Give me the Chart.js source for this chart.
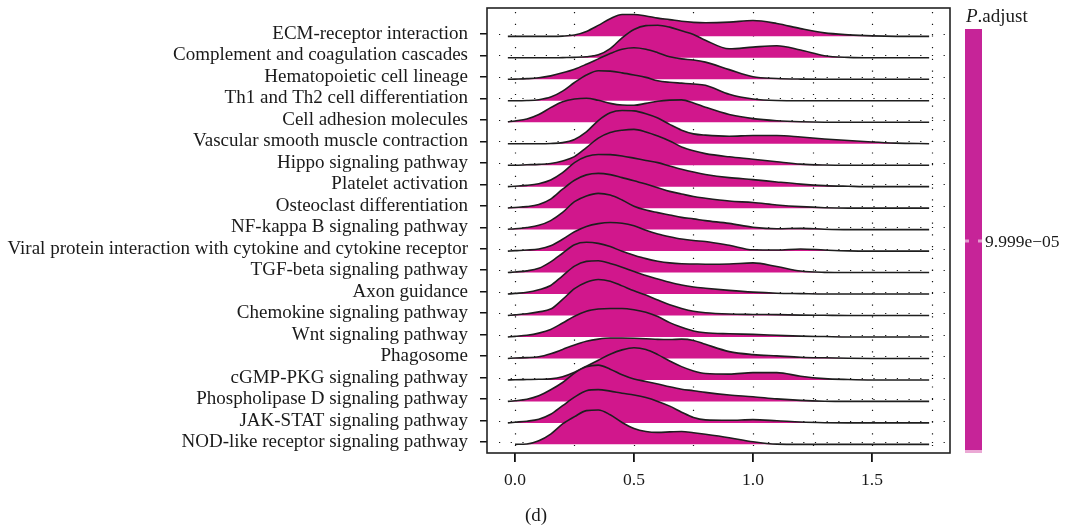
<!DOCTYPE html>
<html>
<head>
<meta charset="utf-8">
<script src="https://cdn.jsdelivr.net/npm/chart.js@4.4.0/dist/chart.umd.min.js"></script>
<style>
  body { margin: 0; background: #fff; }
  #wrap { width: 1066px; height: 531px; }
</style>
</head>
<body>
<div id="wrap"><canvas id="ridge" width="1066" height="531"></canvas></div>
<script>
// pathway names, top row first
const pathways = [
  'ECM-receptor interaction',
  'Complement and coagulation cascades',
  'Hematopoietic cell lineage',
  'Th1 and Th2 cell differentiation',
  'Cell adhesion molecules',
  'Vascular smooth muscle contraction',
  'Hippo signaling pathway',
  'Platelet activation',
  'Osteoclast differentiation',
  'NF-kappa B signaling pathway',
  'Viral protein interaction with cytokine and cytokine receptor',
  'TGF-beta signaling pathway',
  'Axon guidance',
  'Chemokine signaling pathway',
  'Wnt signaling pathway',
  'Phagosome',
  'cGMP-PKG signaling pathway',
  'Phospholipase D signaling pathway',
  'JAK-STAT signaling pathway',
  'NOD-like receptor signaling pathway'
];

// x positions where the ridge heights were read
const xGrid = [-0.03, 0, 0.05, 0.1, 0.15, 0.2, 0.25, 0.3, 0.35, 0.4, 0.45, 0.5, 0.55, 0.6, 0.65,
               0.7, 0.75, 0.8, 0.9, 1.0, 1.1, 1.2, 1.3, 1.4, 1.5, 1.6, 1.74];

// ridge heights (row units) at each xGrid point
const ecmReceptor   = [0, 0, 0, 0, 0, 0.01, 0.06, 0.23, 0.51, 0.82, 1.02, 1.02, 0.95, 0.85, 0.78, 0.7, 0.65, 0.63, 0.66, 0.74, 0.6, 0.36, 0.16, 0.07, 0.02, 0, 0];
const complement    = [0, 0, 0, 0, 0, 0.01, 0.02, 0.05, 0.14, 0.43, 0.93, 1.32, 1.5, 1.52, 1.43, 1.26, 1.09, 0.82, 0.42, 0.5, 0.56, 0.36, 0.1, 0.02, 0, 0, 0];
const hematopoietic = [0, 0.01, 0.03, 0.07, 0.16, 0.3, 0.47, 0.7, 0.95, 1.2, 1.4, 1.47, 1.4, 1.24, 1.05, 0.95, 0.9, 0.8, 0.45, 0.12, 0.04, 0.01, 0, 0, 0, 0, 0];
const th1th2        = [0, 0, 0.01, 0.05, 0.17, 0.45, 0.85, 1.2, 1.4, 1.38, 1.3, 1.2, 1.09, 0.93, 0.86, 0.82, 0.78, 0.72, 0.3, 0.08, 0.01, 0, 0, 0, 0, 0, 0];
const cellAdhesion  = [0.02, 0.06, 0.15, 0.36, 0.68, 0.95, 1.08, 1.12, 1.02, 0.88, 0.8, 0.79, 0.88, 0.98, 1.03, 1.04, 0.9, 0.7, 0.36, 0.17, 0.07, 0.02, 0, 0, 0, 0, 0];
const vascular      = [0, 0, 0, 0, 0.01, 0.05, 0.2, 0.55, 1.08, 1.44, 1.55, 1.53, 1.4, 1.2, 0.9, 0.63, 0.46, 0.4, 0.35, 0.38, 0.38, 0.31, 0.22, 0.15, 0.08, 0.03, 0];
const hippo         = [0, 0, 0.02, 0.04, 0.08, 0.2, 0.4, 0.82, 1.26, 1.52, 1.63, 1.67, 1.55, 1.36, 1.13, 0.85, 0.67, 0.54, 0.39, 0.28, 0.16, 0.05, 0.01, 0, 0, 0, 0];
const platelet      = [0, 0.02, 0.06, 0.14, 0.31, 0.65, 1.12, 1.4, 1.5, 1.49, 1.43, 1.33, 1.22, 1.12, 0.96, 0.81, 0.68, 0.57, 0.42, 0.33, 0.22, 0.12, 0.05, 0.02, 0, 0, 0];
const osteoclast    = [0.01, 0.03, 0.07, 0.17, 0.42, 0.88, 1.3, 1.55, 1.62, 1.56, 1.42, 1.28, 1.12, 0.95, 0.78, 0.66, 0.54, 0.46, 0.33, 0.26, 0.15, 0.07, 0.02, 0, 0, 0, 0];
const nfkappaB      = [0.02, 0.04, 0.1, 0.2, 0.42, 0.8, 1.3, 1.57, 1.69, 1.61, 1.38, 1.09, 0.91, 0.79, 0.68, 0.57, 0.5, 0.42, 0.29, 0.11, 0.04, 0.06, 0.02, 0, 0, 0, 0];
const viralProtein  = [0, 0.02, 0.05, 0.1, 0.25, 0.55, 0.9, 1.15, 1.28, 1.33, 1.3, 1.18, 0.97, 0.8, 0.67, 0.56, 0.49, 0.45, 0.27, 0.06, 0.05, 0.1, 0.05, 0.01, 0, 0, 0];
const tgfBeta       = [0, 0.03, 0.08, 0.2, 0.5, 0.9, 1.3, 1.41, 1.36, 1.21, 0.99, 0.81, 0.65, 0.53, 0.45, 0.41, 0.4, 0.39, 0.4, 0.45, 0.28, 0.07, 0.01, 0, 0, 0, 0];
const axonGuidance  = [0, 0.03, 0.08, 0.2, 0.4, 0.85, 1.3, 1.52, 1.55, 1.42, 1.25, 1.05, 0.86, 0.7, 0.55, 0.42, 0.33, 0.27, 0.17, 0.09, 0.04, 0.02, 0, 0, 0, 0, 0];
const chemokine     = [0, 0.03, 0.08, 0.17, 0.3, 0.75, 1.25, 1.55, 1.68, 1.6, 1.38, 1.15, 0.95, 0.72, 0.5, 0.33, 0.2, 0.13, 0.07, 0.05, 0.04, 0.02, 0.01, 0, 0, 0, 0];
const wnt           = [0, 0.03, 0.08, 0.18, 0.35, 0.65, 0.97, 1.2, 1.3, 1.33, 1.33, 1.27, 1.15, 0.95, 0.67, 0.45, 0.28, 0.2, 0.15, 0.12, 0.08, 0.04, 0.02, 0, 0, 0, 0];
const phagosome     = [0, 0.02, 0.04, 0.08, 0.22, 0.42, 0.63, 0.8, 0.9, 0.95, 0.95, 0.94, 0.92, 0.89, 0.88, 0.9, 0.84, 0.66, 0.32, 0.18, 0.12, 0.06, 0.03, 0.01, 0, 0, 0];
const cgmpPkg       = [0, 0.01, 0.02, 0.03, 0.05, 0.15, 0.36, 0.64, 0.92, 1.2, 1.4, 1.5, 1.42, 1.18, 0.88, 0.62, 0.42, 0.3, 0.27, 0.34, 0.34, 0.17, 0.06, 0.02, 0, 0, 0];
const phospholipase = [0, 0.03, 0.1, 0.26, 0.54, 0.88, 1.32, 1.61, 1.69, 1.5, 1.24, 1.04, 0.93, 0.81, 0.68, 0.57, 0.5, 0.42, 0.3, 0.22, 0.12, 0.05, 0.01, 0, 0, 0, 0];
const jakStat       = [0, 0.03, 0.08, 0.17, 0.4, 0.8, 1.2, 1.5, 1.55, 1.48, 1.38, 1.3, 1.18, 1.0, 0.78, 0.5, 0.25, 0.14, 0.12, 0.15, 0.1, 0.04, 0.01, 0, 0, 0, 0];
const nodLike       = [null, 0, 0.02, 0.17, 0.48, 0.95, 1.29, 1.57, 1.6, 1.38, 1.02, 0.74, 0.6, 0.56, 0.58, 0.6, 0.54, 0.47, 0.31, 0.12, 0.01, 0, 0, 0, 0, 0, 0];

// same order as pathways
const ridgeHeights = [ecmReceptor, complement, hematopoietic, th1th2, cellAdhesion, vascular, hippo,
  platelet, osteoclast, nfkappaB, viralProtein, tgfBeta, axonGuidance, chemokine, wnt, phagosome,
  cgmpPkg, phospholipase, jakStat, nodLike];

const xTicks = [0, 0.5, 1.0, 1.5];
const gridBreaks = [0, 0.25, 0.5, 0.75, 1.0, 1.25, 1.5, 1.75];
const legendTitle = ['P', '.adjust'];
const legendValue = '9.999e\u221205';
const panelTag = '(d)';

const fillColor = '#D1178C';
const barColor = '#C62498';
const lineColor = '#1e1e1e';
const serif = '"Liberation Serif", "DejaVu Serif", serif';
const rowShift = 0.11;   // ridge baseline sits a bit under its tick

const n = pathways.length;

// bottom row first so lower ridges get painted over the upper ones
var datasets = [];
for (let i = 0; i < n; i++) {
  const k = n - 1 - i;
  const base = (i + 1) - rowShift;
  const h = ridgeHeights[k];
  datasets.push({
    label: pathways[k],
    data: xGrid.map((x, j) => ({ x: x, y: h[j] == null ? null : base + h[j] })),
    fill: { value: base },
    backgroundColor: fillColor,
    borderColor: lineColor,
    borderWidth: 1.6,
    pointRadius: 0,
    cubicInterpolationMode: 'monotone'
  });
}

// kill the label overhang padding so the panel sits where the reference has it
const noPad = s => { s.paddingTop = 0; s.paddingBottom = 0; s.paddingLeft = 0; s.paddingRight = 0; };

const decor = {
  id: 'decor',
  beforeDatasetsDraw(chart) {
    const { ctx, chartArea: a, scales: { x, y } } = chart;
    ctx.save();
    ctx.strokeStyle = '#151515';
    ctx.lineWidth = 1.2;
    ctx.setLineDash([1.2, 10.5]);
    gridBreaks.forEach(v => {
      const px = Math.round(x.getPixelForValue(v)) + 0.5;
      ctx.beginPath(); ctx.moveTo(px, a.top + 4); ctx.lineTo(px, a.bottom); ctx.stroke();
    });
    for (let c = 1; c <= n; c++) {
      const py = Math.round(y.getPixelForValue(c)) + 0.5;
      ctx.beginPath(); ctx.moveTo(a.left + 12, py); ctx.lineTo(a.right, py); ctx.stroke();
    }
    ctx.restore();
  },
  afterDatasetsDraw(chart) {
    const { ctx, chartArea: a } = chart;
    ctx.save();
    // panel frame
    ctx.strokeStyle = '#222';
    ctx.lineWidth = 1.6;
    ctx.strokeRect(a.left, a.top, a.right - a.left, a.bottom - a.top);

    // colour bar legend
    const bx = a.right + 15, bw = 17, by = 29, bh = 421;
    ctx.fillStyle = barColor;
    ctx.fillRect(bx, by, bw, bh);
    ctx.fillStyle = '#EBA9D5';
    ctx.fillRect(bx, by + bh, bw, 3);
    ctx.strokeStyle = 'rgba(255,255,255,0.55)';
    ctx.lineWidth = 3;
    ctx.beginPath();
    ctx.moveTo(bx, 241); ctx.lineTo(bx + 4, 241);
    ctx.moveTo(bx + bw - 4, 241); ctx.lineTo(bx + bw, 241);
    ctx.stroke();

    ctx.fillStyle = '#1a1a1a';
    ctx.textBaseline = 'alphabetic';
    ctx.textAlign = 'left';
    ctx.font = 'italic 19px ' + serif;
    ctx.fillText(legendTitle[0], bx + 1, 22);
    const pw = ctx.measureText(legendTitle[0]).width;
    ctx.font = '19px ' + serif;
    ctx.fillText(legendTitle[1], bx + 1 + pw, 22);

    ctx.font = '17.5px ' + serif;
    ctx.textBaseline = 'middle';
    ctx.fillText(legendValue, bx + bw + 3, 242);

    ctx.font = '19px ' + serif;
    ctx.textAlign = 'center';
    ctx.fillText(panelTag, 536, 516);
    ctx.restore();
  }
};

new Chart(document.getElementById('ridge').getContext('2d'), {
  type: 'line',
  data: { datasets: datasets },
  options: {
    responsive: false,
    animation: false,
    layout: { padding: { top: 8, right: 116, left: 0, bottom: 0 } },
    plugins: { legend: { display: false }, tooltip: { enabled: false } },
    scales: {
      x: {
        type: 'linear',
        min: -0.1176,
        max: 1.8277,
        afterBuildTicks: s => { s.ticks = xTicks.map(v => ({ value: v })); },
        afterFit: s => { s.height = 78; noPad(s); },
        grid: { drawOnChartArea: false, drawTicks: true, tickLength: 9, color: '#111', lineWidth: 1.8 },
        border: { display: false },
        ticks: {
          color: '#1a1a1a',
          font: { family: serif, size: 17.5 },
          padding: 8,
          maxRotation: 0,
          callback: v => Number(v).toFixed(1)
        }
      },
      y: {
        type: 'linear',
        min: 0.488,
        max: 21.21,
        afterBuildTicks: s => { s.ticks = pathways.map((p, i) => ({ value: n - i })); },
        afterFit: s => { s.width = 487; noPad(s); },
        grid: { drawOnChartArea: false, drawTicks: true, tickLength: 7, color: '#111', lineWidth: 1.5 },
        border: { display: false },
        ticks: {
          color: '#1a1a1a',
          font: { family: serif, size: 19 },
          padding: 12,
          autoSkip: false,
          callback: v => pathways[n - v]
        }
      }
    }
  },
  plugins: [decor]
});
</script>
</body>
</html>
